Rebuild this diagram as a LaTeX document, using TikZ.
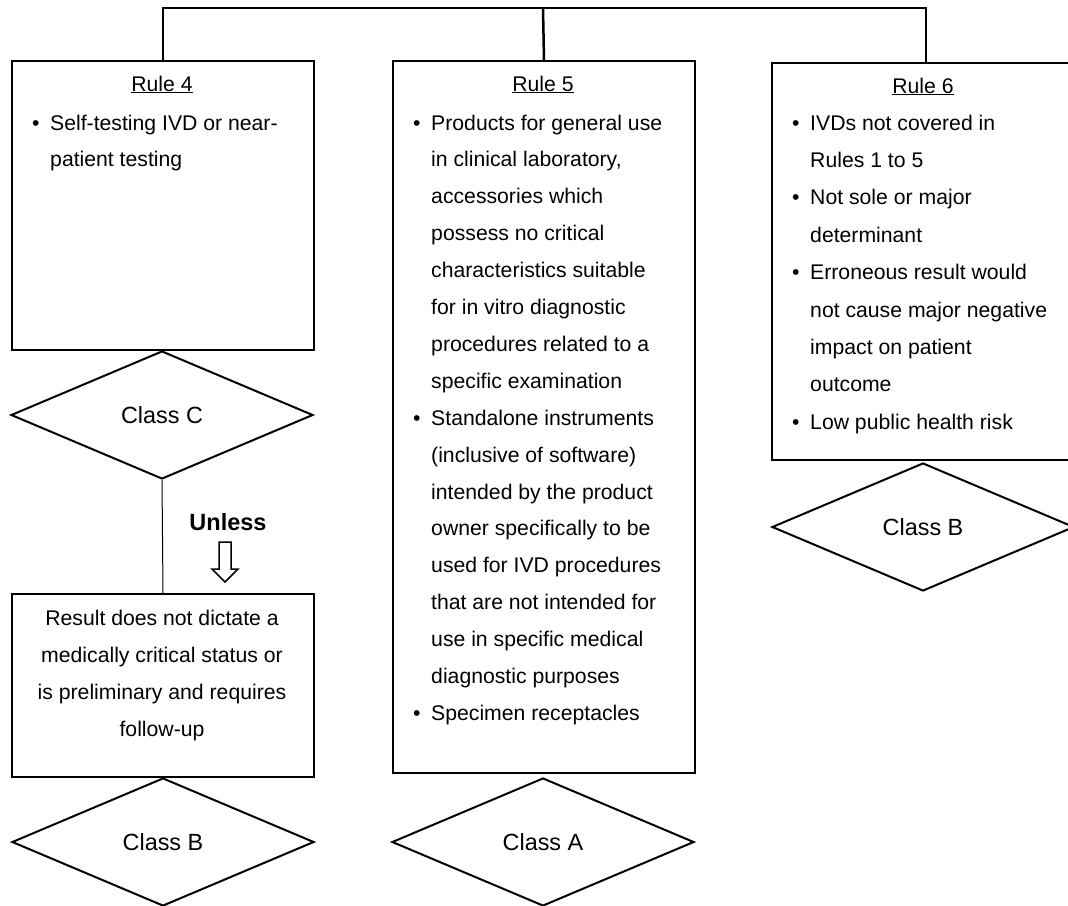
\documentclass[tikz,border=0pt]{standalone}
\usepackage{fontspec}
\setmainfont{Liberation Sans}
\usetikzlibrary{shapes.geometric}
\newcommand\fsA{\fontsize{21.2}{36.9}\selectfont}
\newcommand\fsB{\fontsize{21.2}{37.4}\selectfont}
\newcommand\fsC{\fontsize{21.2}{37.3}\selectfont}
\newcommand\fsD{\fontsize{23.4}{28}\selectfont}
\begin{document}
\begin{tikzpicture}[x=1pt,y=-1pt,
  box/.style={draw, line width=2pt, rectangle, inner sep=0pt, anchor=north west},
  cls/.style={draw, diamond, line width=2pt, minimum width=302pt, minimum height=128pt, inner sep=0pt, font=\fsD},
  txt/.style={inner sep=0pt, anchor=base west},
  ttl/.style={inner sep=0pt, anchor=base, font=\fsA},
  conn/.style={line width=2.5pt},
  thinconn/.style={line width=1pt},
]
\useasboundingbox (0,0) rectangle (1068,905);
\clip (0,0) rectangle (1068,905);

% boxes
\node[box, minimum width=302pt, minimum height=289pt] (r4) at (11,60) {};
\node[box, minimum width=302pt, minimum height=712pt] (r5) at (392,60) {};
\node[box, minimum width=308pt, minimum height=397pt] (r6) at (771,62) {};
\node[box, minimum width=302pt, minimum height=183pt] (res) at (11,593) {};

% diamonds
\node[cls] (cc) at (162,415) {Class C};
\node[cls] (cb1) at (163,842) {Class B};
\node[cls] (ca) at (543,842) {Class A};
\node[cls] (cb2) at (923,527) {Class B};

% top connectors
\coordinate (bar) at (543,8);
\draw[conn] (r4.north) |- (bar) -| (r6.north);
\draw[conn] (r5.north) -- (bar);

% Class C to result box
\draw[thinconn] (cc.south) -- (res.north);

% titles
\node[ttl] (t4) at (162,91) {\underline{Rule 4}};
\node[ttl] (t5) at (543,91) {\underline{Rule 5}};
\node[ttl] (t6) at (923,93) {\underline{Rule 6}};

% Rule 4 text
\node[txt, font=\fsA] (b4) at (32,130) {\begin{tabular}[t]{@{}l@{\hspace{10.6pt}}l@{}}
\textbullet & Self-testing IVD or near-\\
 & patient testing
\end{tabular}};

% Rule 5 text
\node[txt, font=\fsA] (b5) at (413,130) {\begin{tabular}[t]{@{}l@{\hspace{10.6pt}}l@{}}
\textbullet & Products for general use\\
 & in clinical laboratory,\\
 & accessories which\\
 & possess no critical\\
 & characteristics suitable\\
 & for in vitro diagnostic\\
 & procedures related to a\\
 & specific examination\\
\textbullet & Standalone instruments\\
 & (inclusive of software)\\
 & intended by the product\\
 & owner specifically to be\\
 & used for IVD procedures\\
 & that are not intended for\\
 & use in specific medical\\
 & diagnostic purposes\\
\textbullet & Specimen receptacles
\end{tabular}};

% Rule 6 text
\node[txt, font=\fsB] (b6) at (792,130) {\begin{tabular}[t]{@{}l@{\hspace{10.6pt}}l@{}}
\textbullet & IVDs not covered in\\
 & Rules 1 to 5\\
\textbullet & Not sole or major\\
 & determinant\\
\textbullet & Erroneous result would\\
 & not cause major negative\\
 & impact on patient\\
 & outcome\\
\textbullet & Low public health risk
\end{tabular}};

% result text
\node[inner sep=0pt, anchor=base, font=\fsC] (rt) at (162,625) {\begin{tabular}[t]{@{}c@{}}
Result does not dictate a\\
medically critical status or\\
is preliminary and requires\\
follow-up
\end{tabular}};

% Unless label and hollow arrow
\node[inner sep=0pt, font=\fontsize{23.5}{28}\selectfont\bfseries] (unl) at (228,522) {Unless};
\draw[line width=1.5pt, line join=miter] (219,542) -- (231,542) -- (231,569) -- (238,569) -- (225,582) -- (212,569) -- (219,569) -- cycle;
\end{tikzpicture}
\end{document}
